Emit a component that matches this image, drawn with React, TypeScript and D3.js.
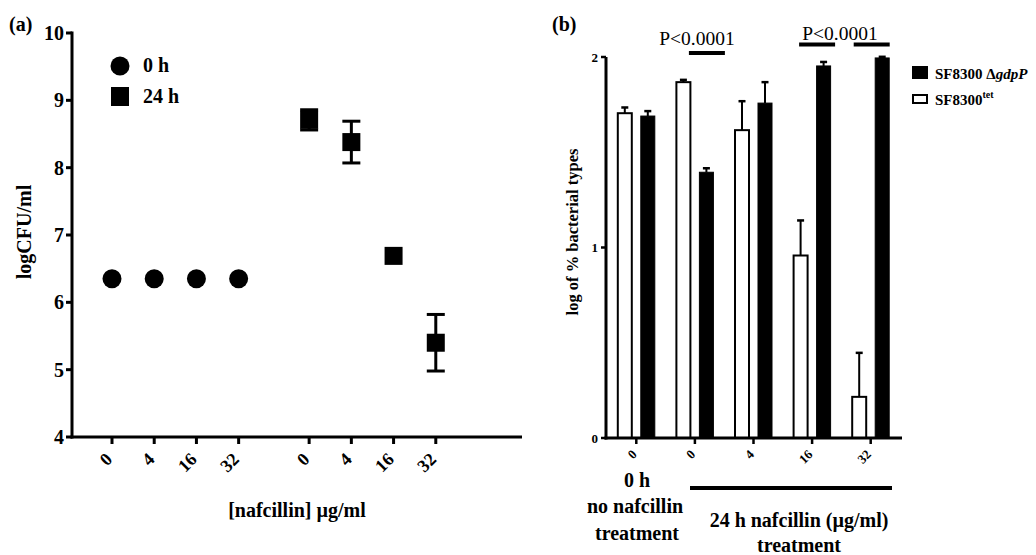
import React from "react";
import * as d3 from "d3";

// panel (a): logCFU/ml vs nafcillin
const concLabels = ["0", "4", "16", "32"];
const cfu0h = [6.35, 6.35, 6.35, 6.35];
const cfu24h = [8.71, 8.38, 6.69, 5.4];
const cfu24hErr = [0.15, 0.31, 0, 0.42];
const yTicksA = [4, 5, 6, 7, 8, 9, 10];

// panel (b): log of % bacterial types
const groupsB = ["0h-0", "24h-0", "24h-4", "24h-16", "24h-32"];
const groupLabelsB = ["0", "0", "4", "16", "32"];
const tetVals = [1.705, 1.868, 1.616, 0.958, 0.216];
const tetErr = [0.03, 0.012, 0.152, 0.184, 0.231];
const gdpVals = [1.69, 1.395, 1.758, 1.953, 1.995];
const gdpErr = [0.026, 0.021, 0.11, 0.021, 0.006];
const yTicksB = [0, 1, 2];

const FONT = "Liberation Serif, Tinos, Times New Roman, serif";

function PanelA() {
  const y = d3.scaleLinear().domain([4, 10]).range([437, 33]);
  // two groups of 4 concentrations with a gap between them
  const gap = 1.67;
  const x = d3.scaleLinear().domain([0, 7 + gap]).range([112, 478]);
  const xs0 = concLabels.map((_, i) => x(i));
  const xs24 = concLabels.map((_, i) => x(i + 3 + gap));
  const ticks = [...xs0, ...xs24];
  const half = 9;
  return (
    <g>
      <text x={9} y={31} fontSize={20} fontWeight="bold">(a)</text>
      {/* axes */}
      <line x1={72} x2={72} y1={y(10) - 1.5} y2={y(4) + 1.5} stroke="#000" strokeWidth={3} />
      <line x1={70.5} x2={522} y1={y(4)} y2={y(4)} stroke="#000" strokeWidth={3} />
      {yTicksA.map((t) => (
        <g key={t}>
          <line x1={66} x2={72} y1={y(t)} y2={y(t)} stroke="#000" strokeWidth={3} />
          <text x={64} y={y(t)} dy="0.35em" textAnchor="end" fontSize={20} fontWeight="bold">{t}</text>
        </g>
      ))}
      {ticks.map((tx, i) => (
        <g key={i}>
          <line x1={tx} x2={tx} y1={y(4)} y2={y(4) + 7} stroke="#000" strokeWidth={3} />
          <g transform={`translate(${tx - 3},${456}) rotate(-45)`}>
            <text textAnchor="end" dy="0.35em" fontSize={18} fontWeight="bold">
              {concLabels[i % 4]}
            </text>
          </g>
        </g>
      ))}
      <text x={297} y={517} textAnchor="middle" fontSize={20} fontWeight="bold">[nafcillin] µg/ml</text>
      <g transform="translate(31,232) rotate(-90)">
        <text textAnchor="middle" fontSize={20} fontWeight="bold">logCFU/ml</text>
      </g>
      {/* 0 h circles */}
      {cfu0h.map((v, i) => (
        <circle key={i} cx={xs0[i]} cy={y(v)} r={9.5} fill="#000" />
      ))}
      {/* 24 h squares with error bars */}
      {cfu24h.map((v, i) => {
        const cx = xs24[i];
        const e = cfu24hErr[i];
        return (
          <g key={i}>
            {e > 0 && (
              <g stroke="#000" strokeWidth={3}>
                <line x1={cx} x2={cx} y1={y(v + e)} y2={y(v - e)} />
                <line x1={cx - half} x2={cx + half} y1={y(v + e)} y2={y(v + e)} />
                <line x1={cx - half} x2={cx + half} y1={y(v - e)} y2={y(v - e)} />
              </g>
            )}
            <rect x={cx - half} y={y(v) - half} width={half * 2} height={half * 2} fill="#000" />
          </g>
        );
      })}
      {/* legend */}
      <circle cx={120} cy={66} r={9.5} fill="#000" />
      <text x={143} y={72} fontSize={20} fontWeight="bold">0 h</text>
      <rect x={111} y={87} width={18} height={19} fill="#000" />
      <text x={143} y={103} fontSize={20} fontWeight="bold">24 h</text>
    </g>
  );
}

function PanelB() {
  const y = d3.scaleLinear().domain([0, 2]).range([438, 57]);
  const x = d3.scaleBand().domain(groupsB).range([607, 900]);
  const cx = (g: string) => (x(g) as number) + x.bandwidth() / 2;
  const bw = 14;
  const off = 11.5;
  const sig = [
    { g: "24h-0", a: -6, b: 30, y: 53 },
    { g: "24h-16", a: -13, b: 23, y: 44.5 },
    { g: "24h-32", a: -17, b: 19, y: 44.5 },
  ];
  const errBar = (bx: number, v: number, e: number, k: string) => (
    <g key={k} stroke="#000">
      <line x1={bx} x2={bx} y1={y(v)} y2={y(v + e)} strokeWidth={2} />
      <line x1={bx - 3.5} x2={bx + 3.5} y1={y(v + e)} y2={y(v + e)} strokeWidth={2.5} />
    </g>
  );
  return (
    <g>
      <text x={552} y={31} fontSize={20} fontWeight="bold">(b)</text>
      {groupsB.map((g, i) => {
        const c = cx(g);
        return (
          <g key={g}>
            {errBar(c - off, tetVals[i], tetErr[i], "te")}
            <rect x={c - off - bw / 2} y={y(tetVals[i])} width={bw} height={y(0) - y(tetVals[i])} fill="#fff" stroke="#000" strokeWidth={2} />
            {errBar(c + off, gdpVals[i], gdpErr[i], "ge")}
            <rect x={c + off - bw / 2} y={y(gdpVals[i])} width={bw} height={y(0) - y(gdpVals[i])} fill="#000" stroke="#000" strokeWidth={1} />
          </g>
        );
      })}
      {/* axes */}
      <line x1={606} x2={606} y1={y(2)} y2={y(0) + 1.5} stroke="#000" strokeWidth={3} />
      <line x1={604.5} x2={902} y1={y(0)} y2={y(0)} stroke="#000" strokeWidth={3} />
      {yTicksB.map((t) => (
        <g key={t}>
          <line x1={601} x2={606} y1={y(t)} y2={y(t)} stroke="#000" strokeWidth={2.5} />
          <text x={598} y={y(t)} dy="0.35em" textAnchor="end" fontSize={13} fontWeight="bold">{t}</text>
        </g>
      ))}
      {groupsB.map((g, i) => (
        <g key={g}>
          <line x1={cx(g)} x2={cx(g)} y1={y(0)} y2={y(0) + 6} stroke="#000" strokeWidth={2.5} />
          <g transform={`translate(${cx(g) - 2},${452}) rotate(-45)`}>
            <text textAnchor="end" dy="0.35em" fontSize={13} fontWeight="bold">
              {groupLabelsB[i]}
            </text>
          </g>
        </g>
      ))}
      <g transform="translate(578,232) rotate(-90)">
        <text textAnchor="middle" fontSize={16.5} fontWeight="bold">log of % bacterial types</text>
      </g>
      {/* significance */}
      <text x={697} y={45} textAnchor="middle" fontSize={19.5}>P&lt;0.0001</text>
      <text x={840} y={40} textAnchor="middle" fontSize={19.5}>P&lt;0.0001</text>
      {sig.map((s, i) => (
        <line key={i} x1={cx(s.g) + s.a} x2={cx(s.g) + s.b} y1={s.y} y2={s.y} stroke="#000" strokeWidth={4} />
      ))}
      {/* group labels */}
      <g fontSize={20} fontWeight="bold" textAnchor="middle">
        <text x={637} y={487}>0 h</text>
        <text x={635} y={513}>no nafcillin</text>
        <text x={637} y={540}>treatment</text>
        <text x={799} y={527}>24 h nafcillin (µg/ml)</text>
        <text x={799} y={552}>treatment</text>
      </g>
      <line x1={690} x2={892} y1={488} y2={488} stroke="#000" strokeWidth={4} />
      {/* legend */}
      <rect x={912} y={66} width={16} height={13} fill="#000" />
      <text x={935} y={79} fontSize={15} fontWeight="bold">
        SF8300 Δ<tspan fontStyle="italic">gdpP</tspan>
      </text>
      <rect x={913} y={95} width={14} height={8} fill="#fff" stroke="#000" strokeWidth={2} />
      <text x={935} y={105} fontSize={15} fontWeight="bold">
        SF8300<tspan fontSize={10} dy={-7}>tet</tspan>
      </text>
    </g>
  );
}

export default function App() {
  return (
    <svg
      width={1036}
      height={555}
      style={{ position: "absolute", left: 0, top: 0, background: "#fff", fontFamily: FONT }}
    >
      <rect width={1036} height={555} fill="#fff" />
      <PanelA />
      <PanelB />
    </svg>
  );
}
